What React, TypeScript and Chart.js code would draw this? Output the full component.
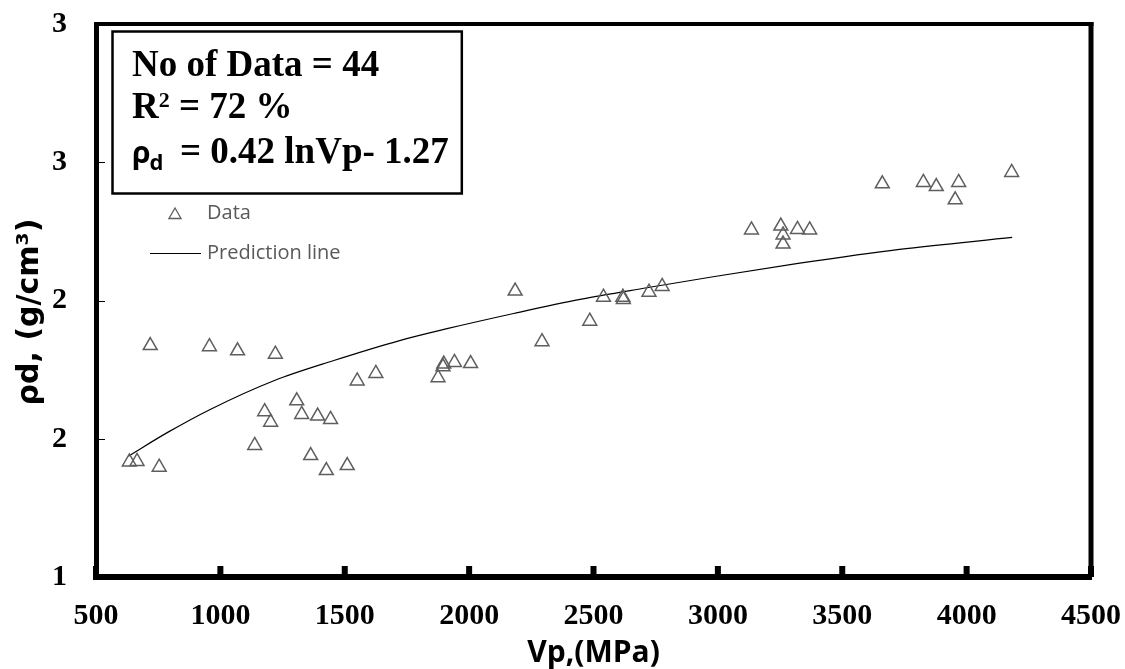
import React, { useEffect, useRef } from 'react';
import { Chart, registerables } from 'chart.js';

Chart.register(...registerables);

// Measured data points (Vp in MPa, dry density in g/cm3)
const dataVp = [634, 665, 754, 718, 956, 1069, 1221, 1550, 1625, 1307, 1178, 1202, 1327, 1391, 1443, 1138, 1363, 1426, 1510,
  2185, 1898, 1895, 1941, 2006, 1875, 2293, 2485, 2540, 2618, 2620, 2723, 2776,
  3135, 3253, 3262, 3262, 3320, 3369, 3661, 3826, 3878, 3968, 3954, 4181];
const dataRho = [1.416, 1.418, 1.397, 1.837, 1.833, 1.818, 1.806, 1.709, 1.736, 1.637, 1.598, 1.560, 1.588, 1.582, 1.570, 1.476, 1.439, 1.385, 1.403,
  2.034, 1.770, 1.760, 1.776, 1.772, 1.721, 1.851, 1.925, 2.012, 2.012, 2.004, 2.030, 2.051,
  2.255, 2.269, 2.237, 2.204, 2.257, 2.255, 2.422, 2.427, 2.412, 2.427, 2.364, 2.463];

// Prediction line
const predVp = [630, 788, 961, 1215, 1456, 1724, 1911, 2179, 2446, 2714, 2981, 3329, 3730, 4183];
const predRho = [1.437, 1.523, 1.607, 1.710, 1.783, 1.856, 1.898, 1.953, 2.004, 2.046, 2.086, 2.135, 2.185, 2.228];

const xTickLabels = ['500', '1000', '1500', '2000', '2500', '3000', '3500', '4000', '4500'];
const yTickLabels = ['1', '2', '2', '3', '3'];

const xTitle = 'Vp,(MPa)';
const yTitle = 'ρd, (g/cm³)';
const legendLabels = ['Data', 'Prediction line'];
const countText = 'No of Data = 44';
const r2Letter = 'R';
const r2Sup = '2';
const r2Value = ' = 72 %';
const eqRho = 'ρ';
const eqSub = 'd';
const eqText = '= 0.42 lnVp- 1.27';

const MARKER_COLOR = '#5e5e5e';
const LEGEND_TEXT = '#595959';

const overlayPlugin = {
  id: 'overlay',
  afterDraw(chart: any) {
    const { ctx, chartArea: a, scales } = chart;
    const xs = scales.x;
    const ys = scales.y;
    ctx.save();
    ctx.strokeStyle = '#000';
    ctx.fillStyle = '#000';
    // top and right frame
    ctx.lineWidth = 4;
    ctx.beginPath();
    ctx.moveTo(a.left, a.top);
    ctx.lineTo(a.right + 2.5, a.top);
    ctx.stroke();
    ctx.lineWidth = 5;
    ctx.beginPath();
    ctx.moveTo(a.right, a.top - 2);
    ctx.lineTo(a.right, a.bottom);
    ctx.stroke();
    // x tick marks (inside, thick)
    xs.ticks.forEach((t: any) => {
      const px = xs.getPixelForValue(t.value);
      ctx.fillRect(px - 3, a.bottom - 11, 6, 11);
    });
    // y tick marks (inside, thin)
    ctx.lineWidth = 1;
    ys.ticks.forEach((t: any) => {
      const py = Math.round(ys.getPixelForValue(t.value)) + 0.5;
      ctx.beginPath();
      ctx.moveTo(a.left, py);
      ctx.lineTo(a.left + 9, py);
      ctx.stroke();
    });

    // y axis title
    ctx.save();
    ctx.translate(30, 312);
    ctx.rotate(-Math.PI / 2);
    ctx.font = 'bold 30px "DejaVu Sans"';
    ctx.textAlign = 'center';
    ctx.textBaseline = 'middle';
    ctx.fillStyle = '#000';
    ctx.fillText(yTitle, 0, 0);
    ctx.restore();

    // info box
    ctx.font = 'bold 37px "Liberation Serif"';
    const eqX = 180;
    const boxRight = eqX + ctx.measureText(eqText).width + 13;
    ctx.fillStyle = '#fff';
    ctx.fillRect(112.5, 31.5, boxRight - 112.5, 162);
    ctx.lineWidth = 2.5;
    ctx.strokeStyle = '#000';
    ctx.strokeRect(112.5, 31.5, boxRight - 112.5, 162);
    ctx.fillStyle = '#000';
    ctx.textBaseline = 'alphabetic';
    ctx.textAlign = 'left';
    ctx.fillText(countText, 132, 76);
    ctx.fillText(r2Letter, 132, 118);
    const rW = ctx.measureText(r2Letter).width;
    ctx.font = 'bold 22px "Liberation Serif"';
    ctx.fillText(r2Sup, 132 + rW, 107);
    const sW = ctx.measureText(r2Sup).width;
    ctx.font = 'bold 37px "Liberation Serif"';
    ctx.fillText(r2Value, 132 + rW + sW, 118);
    ctx.font = 'bold 30px "Open Sans"';
    ctx.fillText(eqRho, 132, 163);
    const rhoW = ctx.measureText(eqRho).width;
    ctx.font = 'bold 22px "Open Sans"';
    ctx.fillText(eqSub, 132 + rhoW - 1, 170);
    ctx.font = 'bold 37px "Liberation Serif"';
    ctx.fillText(eqText, eqX, 163);

    // legend
    ctx.font = '20px "Open Sans"';
    ctx.textBaseline = 'middle';
    ctx.fillStyle = LEGEND_TEXT;
    ctx.strokeStyle = MARKER_COLOR;
    ctx.lineWidth = 1.3;
    const r = 7;
    const tx = 175, ty = 215;
    ctx.beginPath();
    ctx.moveTo(tx, ty - r);
    ctx.lineTo(tx + r * 0.866, ty + r / 2);
    ctx.lineTo(tx - r * 0.866, ty + r / 2);
    ctx.closePath();
    ctx.stroke();
    ctx.fillText(legendLabels[0], 207, 213);
    ctx.strokeStyle = '#000';
    ctx.lineWidth = 1;
    ctx.beginPath();
    ctx.moveTo(150, 253.5);
    ctx.lineTo(201, 253.5);
    ctx.stroke();
    ctx.fillText(legendLabels[1], 207, 253);
    ctx.restore();
  },
};

export default function App() {
  const canvasRef = useRef<HTMLCanvasElement | null>(null);

  useEffect(() => {
    const canvas = canvasRef.current;
    if (!canvas) return;
    const scatterPts = dataVp.map((v, i) => ({ x: v, y: dataRho[i] }));
    const linePts = predVp.map((v, i) => ({ x: v, y: predRho[i] }));
    const chart = new Chart(canvas, {
      type: 'scatter',
      data: {
        datasets: [
          {
            label: legendLabels[0],
            data: scatterPts,
            pointStyle: 'triangle',
            pointRadius: 8,
            pointBorderWidth: 1.5,
            borderColor: MARKER_COLOR,
            backgroundColor: 'rgba(0,0,0,0)',
            showLine: false,
          },
          {
            label: legendLabels[1],
            data: linePts,
            showLine: true,
            pointRadius: 0,
            borderColor: '#000',
            borderWidth: 1.2,
            tension: 0.4,
            cubicInterpolationMode: 'monotone',
            backgroundColor: 'rgba(0,0,0,0)',
          },
        ],
      },
      options: {
        animation: false,
        responsive: false,
        devicePixelRatio: 1,
        layout: { padding: { top: 24, right: 34, bottom: 0, left: 0 } },
        plugins: {
          legend: { display: false },
          tooltip: { enabled: false },
        },
        scales: {
          x: {
            type: 'linear',
            min: 500,
            max: 4500,
            afterFit: (s: any) => {
              s.height = 92;
              s.paddingLeft = 0;
              s.paddingRight = 0;
              s.paddingTop = 0;
              s.paddingBottom = 0;
            },
            grid: { display: false, drawTicks: false },
            border: { display: true, color: '#000', width: 6 },
            ticks: {
              stepSize: 500,
              padding: 21,
              color: '#000',
              font: { family: 'Liberation Serif', weight: 'bold', size: 30 },
              callback: (_v: any, i: number) => xTickLabels[i],
            },
            title: {
              display: true,
              text: xTitle,
              color: '#000',
              font: { family: 'Open Sans', weight: 'bold', size: 30, lineHeight: 1 },
              padding: { top: 0, bottom: 1 },
            },
          },
          y: {
            type: 'linear',
            min: 1,
            max: 3,
            afterFit: (s: any) => {
              s.width = 96;
              s.paddingLeft = 0;
              s.paddingRight = 0;
              s.paddingTop = 0;
              s.paddingBottom = 0;
            },
            grid: { display: false, drawTicks: false },
            border: { display: true, color: '#000', width: 5 },
            ticks: {
              stepSize: 0.5,
              padding: 29,
              color: '#000',
              font: { family: 'Liberation Serif', weight: 'bold', size: 30 },
              callback: (_v: any, i: number) => yTickLabels[i],
            },
            title: { display: false, text: yTitle },
          },
        },
      },
      plugins: [overlayPlugin],
    } as any);
    return () => chart.destroy();
  }, []);

  return (
    <div style={{ position: 'absolute', left: 0, top: 0, width: 1125, height: 669, background: '#fff' }}>
      <canvas ref={canvasRef} width={1125} height={669} style={{ display: 'block' }} />
    </div>
  );
}
